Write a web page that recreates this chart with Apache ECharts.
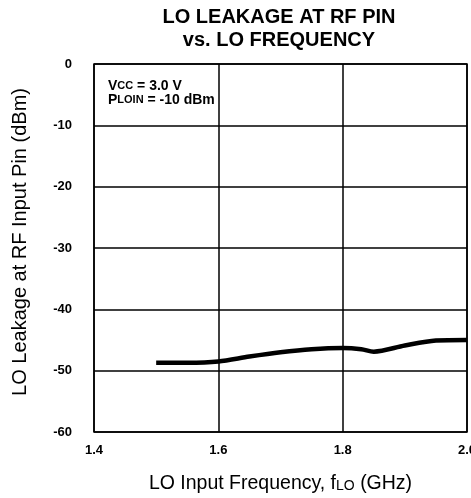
<!DOCTYPE html>
<html>
<head>
<meta charset="utf-8">
<script src="https://cdn.jsdelivr.net/npm/echarts@6/dist/echarts.min.js"></script>
<style>
  html, body { margin: 0; padding: 0; background: #fff; }
</style>
</head>
<body>
<div id="chart" style="width: 471px; height: 498px"></div>
<script>
// values
const freqGHz = [1.5, 1.55, 1.6, 1.65, 1.7, 1.75, 1.8, 1.83, 1.85, 1.9, 1.95, 2.0]
const leakageDbm = [-48.7, -48.7, -48.5, -47.7, -47.0, -46.5, -46.3, -46.5, -46.9, -45.9, -45.1, -45.0]
const xTicks = [1.4, 1.6, 1.8, 2.0]

const font = 'Liberation Sans, Arial, sans-serif'
const chart = echarts.init(document.getElementById('chart'))

const option = {
  backgroundColor: '#fff',
  animation: false,
  title: {
    text: 'LO LEAKAGE AT RF PIN\nvs. LO FREQUENCY',
    left: 274,
    top: 1,
    textAlign: 'center',
    textStyle: { fontFamily: font, fontSize: 20, fontWeight: 'bold', color: '#000', lineHeight: 23 }
  },
  grid: {
    left: 94, right: 4, top: 64, bottom: 66,
    outerBoundsMode: 'none',
    show: true, borderColor: '#000', borderWidth: 1.5
  },
  xAxis: {
    type: 'value',
    min: 1.4,
    max: 2.0,
    interval: 0.2,
    name: '{n|LO Input Frequency, f}{s|LO}{n| (GHz)}',
    nameLocation: 'middle',
    nameGap: 42,
    nameTextStyle: {
      color: '#000',
      rich: {
        n: { fontFamily: font, fontSize: 19.5, color: '#000' },
        s: { fontFamily: font, fontSize: 14, color: '#000', padding: [4, 0, 0, 0] }
      }
    },
    axisLine: { show: false },
    axisTick: { show: false },
    axisLabel: {
      fontFamily: font, fontSize: 13, fontWeight: 'bold', color: '#000', margin: 12,
      formatter: v => xTicks.find(t => Math.abs(t - v) < 1e-6).toFixed(1)
    },
    splitLine: { show: true, lineStyle: { color: '#000', width: 1.5 } }
  },
  yAxis: {
    type: 'value',
    min: -60,
    max: 0,
    interval: 10,
    name: 'LO Leakage at RF Input Pin (dBm)',
    nameLocation: 'middle',
    nameGap: 64,
    nameTextStyle: { fontFamily: font, fontSize: 20, color: '#000', padding: [0, 0, 0, 12] },
    axisLine: { show: false },
    axisTick: { show: false },
    axisLabel: { fontFamily: font, fontSize: 13, fontWeight: 'bold', color: '#000', margin: 22 },
    splitLine: { show: true, lineStyle: { color: '#000', width: 1.5 } }
  },
  graphic: [{
    type: 'text',
    left: 108,
    top: 79,
    style: {
      text: '{a|V}{s|CC}{a| = 3.0 V}\n{a|P}{s|LOIN}{a| = -10 dBm}',
      fill: '#000',
      rich: {
        a: { fontFamily: font, fontSize: 14, fontWeight: 'bold', lineHeight: 14 },
        s: { fontFamily: font, fontSize: 11, fontWeight: 'bold', lineHeight: 14 }
      }
    }
  }],
  series: [{
    type: 'line',
    data: freqGHz.map((f, i) => [f, leakageDbm[i]]),
    showSymbol: false,
    smooth: 0.3,
    lineStyle: { color: '#000', width: 4.5 }
  }]
}

chart.setOption(option)
</script>
</body>
</html>
